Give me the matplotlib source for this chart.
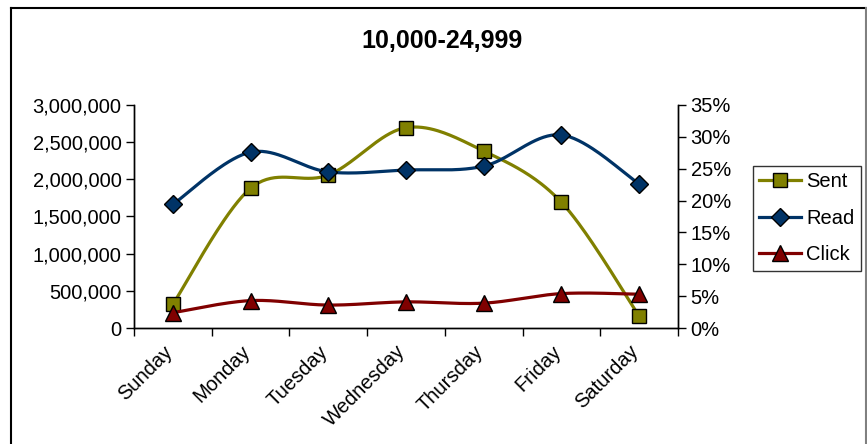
import numpy as np
import matplotlib
matplotlib.use("Agg")
import matplotlib.pyplot as plt
from matplotlib.lines import Line2D
from matplotlib.transforms import ScaledTranslation
from matplotlib.ticker import FuncFormatter, MultipleLocator, FixedLocator

plt.rcParams['font.family'] = ['Liberation Sans', 'DejaVu Sans']

days = ["Sunday", "Monday", "Tuesday", "Wednesday", "Thursday", "Friday", "Saturday"]
sent = [319000, 1880000, 2058000, 2695000, 2381000, 1691000, 161000]
read_pct = [19.4, 27.6, 24.5, 24.8, 25.4, 30.3, 22.6]
click_pct = [2.4, 4.3, 3.6, 4.1, 3.9, 5.4, 5.3]
title = "10,000-24,999"

SENT_C = "#808000"
READ_C = "#003366"
CLICK_C = "#800000"


def smooth(xs, ys, n=40):
    """Catmull-Rom curve through the points, drawn as cubic Bezier segments."""
    p = np.column_stack([xs, ys]).astype(float)
    p_ext = np.vstack([p[0], p, p[-1]])
    out = []
    t = np.linspace(0, 1, n)[:, None]
    for i in range(1, len(p_ext) - 2):
        p0, p1, p2, p3 = p_ext[i - 1], p_ext[i], p_ext[i + 1], p_ext[i + 2]
        c1 = p1 + (p2 - p0) / 6.0
        c2 = p2 - (p3 - p1) / 6.0
        seg = ((1 - t) ** 3) * p1 + 3 * ((1 - t) ** 2) * t * c1 + 3 * (1 - t) * t ** 2 * c2 + t ** 3 * p2
        out.append(seg if i == 1 else seg[1:])
    out = np.vstack(out)
    return out[:, 0], out[:, 1]


fig = plt.figure(figsize=(8.67, 4.44), dpi=100)
ax = fig.add_axes([134 / 867, 1 - 328 / 444, (678 - 134) / 867, (328 - 105) / 444])
ax2 = ax.twinx()

x = np.arange(len(days))
lw = 2.3

sx, sy = smooth(x, sent)
ax.plot(sx, sy, color=SENT_C, lw=lw, zorder=2)
ax.plot(x, sent, ls="none", marker="s", ms=10, mfc=SENT_C, mec="black", mew=1.0, zorder=3)

rx, ry = smooth(x, read_pct)
ax2.plot(rx, ry, color=READ_C, lw=lw, zorder=2)
ax2.plot(x, read_pct, ls="none", marker="D", ms=9, mfc=READ_C, mec="black", mew=1.0, zorder=3)

cx, cy = smooth(x, click_pct)
ax2.plot(cx, cy, color=CLICK_C, lw=lw, zorder=2)
ax2.plot(x, click_pct, ls="none", marker="^", ms=11, mfc=CLICK_C, mec="black", mew=1.0, zorder=3)

ax.set_xlim(-0.5, len(days) - 0.5)
ax.set_ylim(0, 3000000)
ax2.set_ylim(0, 35)

ax.yaxis.set_major_locator(MultipleLocator(500000))
ax.yaxis.set_major_formatter(FuncFormatter(lambda v, p: f"{int(v):,}"))
ax2.yaxis.set_major_locator(MultipleLocator(5))
ax2.yaxis.set_major_formatter(FuncFormatter(lambda v, p: f"{v:.0f}%"))

ax.xaxis.set_major_locator(FixedLocator(np.arange(-0.5, len(days), 1.0)))
ax.xaxis.set_major_formatter(FuncFormatter(lambda v, p: ""))
ax.xaxis.set_minor_locator(FixedLocator(x))
ax.set_xticklabels(days, minor=True, rotation=45, ha="right", va="top",
                   rotation_mode="anchor", fontsize=14.5)
ax.tick_params(axis="x", which="minor", length=0, pad=10)
ax.tick_params(axis="x", which="major", length=6, width=1, direction="out")
shift = ScaledTranslation(-10 / 100, 0, fig.dpi_scale_trans)
for lab in ax.xaxis.get_minorticklabels():
    lab.set_transform(lab.get_transform() + shift)

ax.tick_params(axis="y", labelsize=14.5, length=6, width=1, direction="out", pad=3)
ax2.tick_params(axis="y", labelsize=14.5, length=6, width=1, direction="out", pad=3)

for a in (ax, ax2):
    a.spines["top"].set_visible(False)
    for s in ("left", "right", "bottom"):
        a.spines[s].set_linewidth(1.0)
        a.spines[s].set_color("black")
    a.patch.set_visible(False)

fig.text(442 / 867, 1 - 41 / 444, title, ha="center", va="center",
         fontsize=18, fontweight="bold")

handles = [
    Line2D([], [], color=SENT_C, lw=lw, marker="s", ms=10, mfc=SENT_C, mec="black"),
    Line2D([], [], color=READ_C, lw=lw, marker="D", ms=9, mfc=READ_C, mec="black"),
    Line2D([], [], color=CLICK_C, lw=lw, marker="^", ms=11, mfc=CLICK_C, mec="black"),
]
leg = fig.legend(handles, ["Sent", "Read", "Click"], loc="upper left",
                 bbox_to_anchor=(753 / 867, 1 - 166 / 444), fontsize=14.5,
                 frameon=True, fancybox=False, edgecolor="black",
                 handlelength=2.1, handletextpad=0.25, borderpad=0.3,
                 labelspacing=0.88, borderaxespad=0)
leg.get_frame().set_linewidth(1.0)

# chart-area border
fig.add_artist(Line2D([11 / 867, 11 / 867], [0, 1 - 8 / 444], color="black", lw=1.5,
                      transform=fig.transFigure))
fig.add_artist(Line2D([11 / 867, 866 / 867], [1 - 8 / 444, 1 - 8 / 444], color="black", lw=1.5,
                      transform=fig.transFigure))
fig.add_artist(Line2D([865.5 / 867, 865.5 / 867], [0, 1 - 8 / 444], color="#808080", lw=1.5,
                      transform=fig.transFigure))

fig.savefig("out.png", dpi=100)
